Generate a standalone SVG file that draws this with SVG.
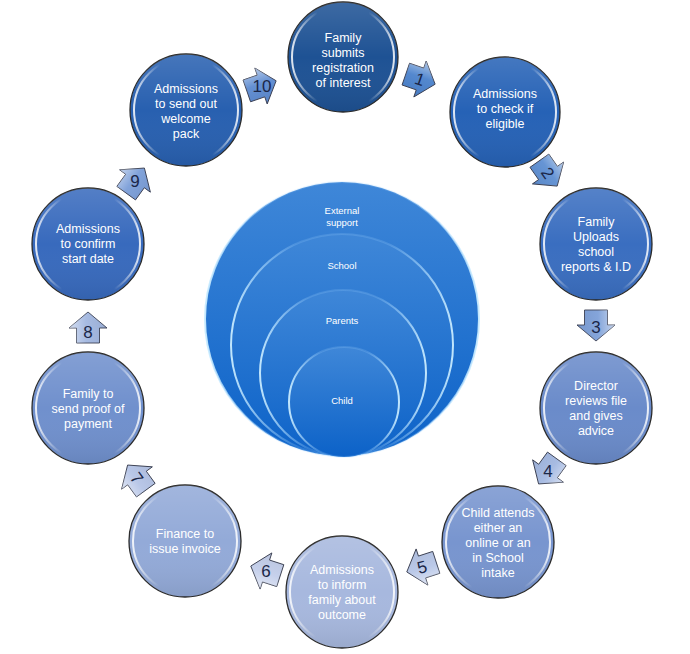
<svg xmlns="http://www.w3.org/2000/svg" xmlns:xlink="http://www.w3.org/1999/xlink" width="690" height="654" viewBox="0 0 690 654">
<style>
.disc{stroke:#2a2a2a;stroke-width:1.3}
.rim{fill:none;stroke:url(#rim);stroke-width:2}
.shade{fill:url(#shade);stroke:none}
.lbl{font-family:"Liberation Sans",Arial,sans-serif;font-size:12.5px;fill:#ffffff;text-anchor:middle}
.tlbl{font-family:"Liberation Sans",Arial,sans-serif;font-size:9.5px;fill:#ffffff;text-anchor:middle}
.num{font-family:"Liberation Sans",Arial,sans-serif;font-size:17px;fill:#1b2748;text-anchor:middle}
.arw{stroke:#3a3f52;stroke-width:0.9}
.ring{fill:url(#tgt);stroke:url(#trim);stroke-width:2}
</style>
<defs>
<linearGradient id="rim" x1="0" y1="0" x2="1" y2="0">
<stop offset="0" stop-color="#ffffff" stop-opacity="0.85"/>
<stop offset="0.25" stop-color="#ffffff" stop-opacity="0"/>
<stop offset="0.75" stop-color="#ffffff" stop-opacity="0"/>
<stop offset="1" stop-color="#ffffff" stop-opacity="0.85"/>
</linearGradient>
<linearGradient id="shade" x1="0" y1="0" x2="0" y2="1">
<stop offset="0" stop-color="#ffffff" stop-opacity="0.14"/>
<stop offset="0.5" stop-color="#ffffff" stop-opacity="0"/>
<stop offset="1" stop-color="#000000" stop-opacity="0.08"/>
</linearGradient>
<linearGradient id="tgt" x1="0" y1="0" x2="0" y2="1">
<stop offset="0" stop-color="#3f87d8"/>
<stop offset="1" stop-color="#0c62c8"/>
</linearGradient>
<linearGradient id="trim" x1="0" y1="0" x2="1" y2="0">
<stop offset="0" stop-color="#c9ecff" stop-opacity="0.95"/>
<stop offset="0.3" stop-color="#9fd2ff" stop-opacity="0.2"/>
<stop offset="0.7" stop-color="#9fd2ff" stop-opacity="0.2"/>
<stop offset="1" stop-color="#c9ecff" stop-opacity="0.95"/>
</linearGradient>
<linearGradient id="agloss" x1="0" y1="0" x2="0" y2="1">
<stop offset="0" stop-color="#ffffff" stop-opacity="0.55"/>
<stop offset="0.45" stop-color="#ffffff" stop-opacity="0.05"/>
<stop offset="1" stop-color="#000000" stop-opacity="0.05"/>
</linearGradient>
<path id="blk" d="M-15,-11.5 L0,-11.5 L0,-19 L16,0 L0,19 L0,11.5 L-15,11.5 Z"/>
</defs>

<g id="target">
<circle class="ring" cx="342" cy="319" r="137"/>
<circle class="ring" cx="342" cy="345" r="111"/>
<circle class="ring" cx="343" cy="373" r="83"/>
<circle class="ring" cx="344" cy="402" r="55"/>
<text class="tlbl" x="342" y="214">External</text>
<text class="tlbl" x="342" y="226">support</text>
<text class="tlbl" x="342" y="269">School</text>
<text class="tlbl" x="342" y="324">Parents</text>
<text class="tlbl" x="342" y="404">Child</text>
</g>

<g id="connectors">
<g transform="translate(420,79) rotate(19)"><use href="#blk" class="arw" fill="#4b82cc"/><use href="#blk" fill="url(#agloss)"/><text class="num" x="0" y="6">1</text></g>
<g transform="translate(548,173) rotate(55)"><use href="#blk" class="arw" fill="#5e8fd2"/><use href="#blk" fill="url(#agloss)"/><text class="num" x="0" y="6">2</text></g>
<g transform="translate(596,325)"><g transform="rotate(90)"><use href="#blk" class="arw" fill="#7ea0d8"/><use href="#blk" fill="url(#agloss)"/></g><text class="num" x="0" y="8">3</text></g>
<g transform="translate(548,471)"><g transform="rotate(126)"><use href="#blk" class="arw" fill="#a3b8e1"/><use href="#blk" fill="url(#agloss)"/></g><text class="num" x="0" y="6">4</text></g>
<g transform="translate(422,567)"><g transform="rotate(162)"><use href="#blk" class="arw" fill="#b7c6e7"/><use href="#blk" fill="url(#agloss)"/></g><text class="num" x="0" y="6" transform="rotate(-15)">5</text></g>
<g transform="translate(266,571)"><g transform="rotate(198)"><use href="#blk" class="arw" fill="#c3ceea"/><use href="#blk" fill="url(#agloss)"/></g><text class="num" x="0" y="6">6</text></g>
<g transform="translate(137,478)"><g transform="rotate(234)"><use href="#blk" class="arw" fill="#b5c4e6"/><use href="#blk" fill="url(#agloss)"/></g><text class="num" x="0" y="6" transform="rotate(54)">7</text></g>
<g transform="translate(88,328)"><g transform="rotate(270)"><use href="#blk" class="arw" fill="#a2b7e0"/><use href="#blk" fill="url(#agloss)"/></g><text class="num" x="0" y="10">8</text></g>
<g transform="translate(135,181)"><g transform="rotate(306)"><use href="#blk" class="arw" fill="#7b9ed8"/><use href="#blk" fill="url(#agloss)"/></g><text class="num" x="0" y="6">9</text></g>
<g transform="translate(261,86)"><g transform="rotate(341)"><use href="#blk" class="arw" fill="#5c8ad0"/><use href="#blk" fill="url(#agloss)"/></g><text class="num" x="1" y="6">10</text></g>
</g>

<g id="n1">
<circle class="disc" cx="343" cy="57" r="55" fill="#1e5294"/>
<circle class="rim" cx="343" cy="57" r="51"/>
<circle class="shade" cx="343" cy="57" r="55"/>
<text class="lbl" x="343" y="41.5">Family</text>
<text class="lbl" x="343" y="56.5">submits</text>
<text class="lbl" x="343" y="71.5">registration</text>
<text class="lbl" x="343" y="86.5">of interest</text>
</g>
<g id="n2">
<circle class="disc" cx="505" cy="112" r="55" fill="#2662b6"/>
<circle class="rim" cx="505" cy="112" r="51"/>
<circle class="shade" cx="505" cy="112" r="55"/>
<text class="lbl" x="505" y="97.5">Admissions</text>
<text class="lbl" x="505" y="112.5">to check if</text>
<text class="lbl" x="505" y="127.5">eligible</text>
</g>
<g id="n3">
<circle class="disc" cx="596" cy="244" r="56" fill="#3a6ec0"/>
<circle class="rim" cx="596" cy="244" r="52"/>
<circle class="shade" cx="596" cy="244" r="56"/>
<text class="lbl" x="596" y="226">Family</text>
<text class="lbl" x="596" y="241">Uploads</text>
<text class="lbl" x="596" y="256">school</text>
<text class="lbl" x="596" y="271">reports &amp; I.D</text>
</g>
<g id="n4">
<circle class="disc" cx="596" cy="408" r="56" fill="#6a8bca"/>
<circle class="rim" cx="596" cy="408" r="52"/>
<circle class="shade" cx="596" cy="408" r="56"/>
<text class="lbl" x="596" y="390">Director</text>
<text class="lbl" x="596" y="405">reviews file</text>
<text class="lbl" x="596" y="420">and gives</text>
<text class="lbl" x="596" y="435">advice</text>
</g>
<g id="n5">
<circle class="disc" cx="498" cy="542" r="56" fill="#7895cf"/>
<circle class="rim" cx="498" cy="542" r="52"/>
<circle class="shade" cx="498" cy="542" r="56"/>
<text class="lbl" x="498" y="516.5">Child attends</text>
<text class="lbl" x="498" y="531.5">either an</text>
<text class="lbl" x="498" y="546.5">online or an</text>
<text class="lbl" x="498" y="561.5">in School</text>
<text class="lbl" x="498" y="576.5">intake</text>
</g>
<g id="n6">
<circle class="disc" cx="342" cy="592" r="56" fill="#a7b8de"/>
<circle class="rim" cx="342" cy="592" r="52"/>
<circle class="shade" cx="342" cy="592" r="56"/>
<text class="lbl" x="342" y="574">Admissions</text>
<text class="lbl" x="342" y="589">to inform</text>
<text class="lbl" x="342" y="604">family about</text>
<text class="lbl" x="342" y="619">outcome</text>
</g>
<g id="n7">
<circle class="disc" cx="185" cy="541" r="56" fill="#93aad8"/>
<circle class="rim" cx="185" cy="541" r="52"/>
<circle class="shade" cx="185" cy="541" r="56"/>
<text class="lbl" x="185" y="537.5">Finance to</text>
<text class="lbl" x="185" y="552.5">issue invoice</text>
</g>
<g id="n8">
<circle class="disc" cx="88" cy="408" r="56" fill="#7090cd"/>
<circle class="rim" cx="88" cy="408" r="52"/>
<circle class="shade" cx="88" cy="408" r="56"/>
<text class="lbl" x="88" y="398">Family to</text>
<text class="lbl" x="88" y="413">send proof of</text>
<text class="lbl" x="88" y="428">payment</text>
</g>
<g id="n9">
<circle class="disc" cx="88" cy="244" r="56" fill="#386abd"/>
<circle class="rim" cx="88" cy="244" r="52"/>
<circle class="shade" cx="88" cy="244" r="56"/>
<text class="lbl" x="88" y="232.5">Admissions</text>
<text class="lbl" x="88" y="247.5">to confirm</text>
<text class="lbl" x="88" y="262.5">start date</text>
</g>
<g id="n10">
<circle class="disc" cx="186" cy="110" r="56" fill="#2860b0"/>
<circle class="rim" cx="186" cy="110" r="52"/>
<circle class="shade" cx="186" cy="110" r="56"/>
<text class="lbl" x="186" y="92.5">Admissions</text>
<text class="lbl" x="186" y="107.5">to send out</text>
<text class="lbl" x="186" y="122.5">welcome</text>
<text class="lbl" x="186" y="137.5">pack</text>
</g>
</svg>
